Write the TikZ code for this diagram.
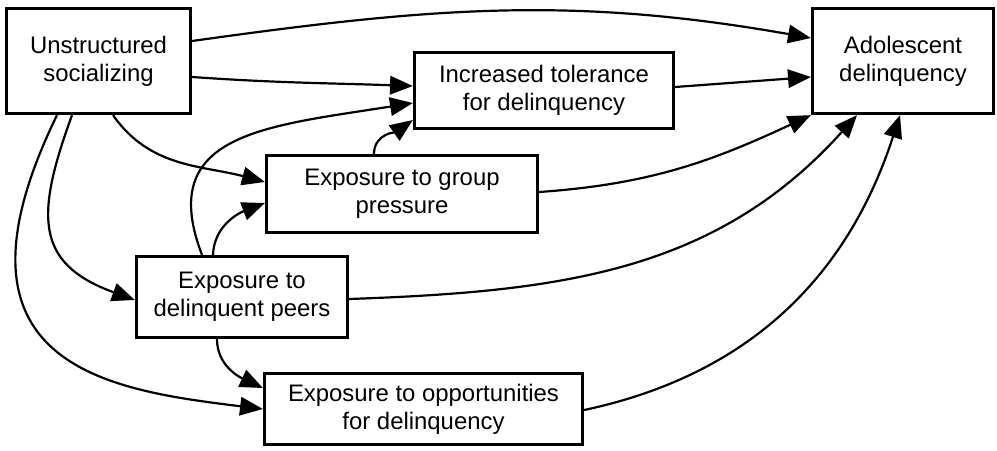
\documentclass[tikz,border=0pt]{standalone}
\usepackage{fontspec}
\setmainfont{Liberation Sans}
\usetikzlibrary{arrows.meta, calc}

\begin{document}
\begin{tikzpicture}[>={Triangle[length=13pt,width=10.5pt]},x=0.02cm,y=0.02cm,
    box/.style={draw,line width=1.6pt,align=center,inner sep=0pt,font=\fontsize{13.6pt}{16pt}\selectfont},
    link/.style={->,line width=1.25pt}]
  \useasboundingbox(0,0)rectangle(997,-450);
  % boxes
  \node[box,minimum width=3.69cm,minimum height=2.11cm](us)at(98.5,-61){Unstructured\\socializing};
  \node[box,minimum width=3.63cm,minimum height=2.11cm](ad)at(903,-61){Adolescent\\delinquency};
  \node[box,minimum width=5.19cm,minimum height=1.53cm](it)at(544,-90.5){Increased tolerance\\for delinquency};
  \node[box,minimum width=5.43cm,minimum height=1.55cm](gp)at(402,-194){Exposure to group\\pressure};
  \node[box,minimum width=4.23cm,minimum height=1.63cm](dp)at(242,-297){Exposure to\\delinquent peers};
  \node[box,minimum width=6.37cm,minimum height=1.43cm](op)at(423.5,-409){Exposure to opportunities\\for delinquency};
  % paths
  \draw[link]($(us.east)+(0,20)$)to[out=8,in=170]($(ad.west)+(0,23)$);
  \draw[link]($(us.east)+(0,-16)$)to[out=-4,in=178]($(it.west)+(0,4.5)$);
  \draw[link]($(it.east)+(0,3.5)$)--($(ad.west)+(0,-16)$);
  \draw[link]($(us.south)+(14.5,0)$)to[out=-55,in=165]($(gp.west)+(0,12)$);
  \draw[link]($(us.south)+(-26.5,0)$)to[out=-110,in=160,looseness=1.4]($(dp.west)+(0,-3)$);
  \draw[link]($(us.south)+(-41.5,0)$)to[out=-116,in=173,out distance=5.6cm,in distance=3.1cm](op.west);
  \draw[link]($(dp.north)+(-40,0)$)to[out=111,in=-171,out distance=2.6cm,in distance=3cm]($(it.west)+(0,-12.5)$);
  \draw[link]($(dp.north)+(-29,0)$)to[out=88,in=-159]($(gp.west)+(0,-9)$);
  \draw[link]($(gp.north)+(-28,0)$)to[out=90,in=-145]($(it.west)+(0,-29.5)$);
  \draw[link]($(gp.east)+(0,2)$)to[out=4,in=-155](ad.south west);
  \draw[link]($(dp.east)+(0,-2)$)to[out=2,in=-132]($(ad.south)+(-46,0)$);
  \draw[link]($(op.east)+(0,-1)$)to[out=12,in=-108]($(ad.south)+(-3,0)$);
  \draw[link]($(dp.south)+(-25,0)$)to[out=-90,in=155]($(op.west)+(0,21)$);
\end{tikzpicture}
\end{document}
